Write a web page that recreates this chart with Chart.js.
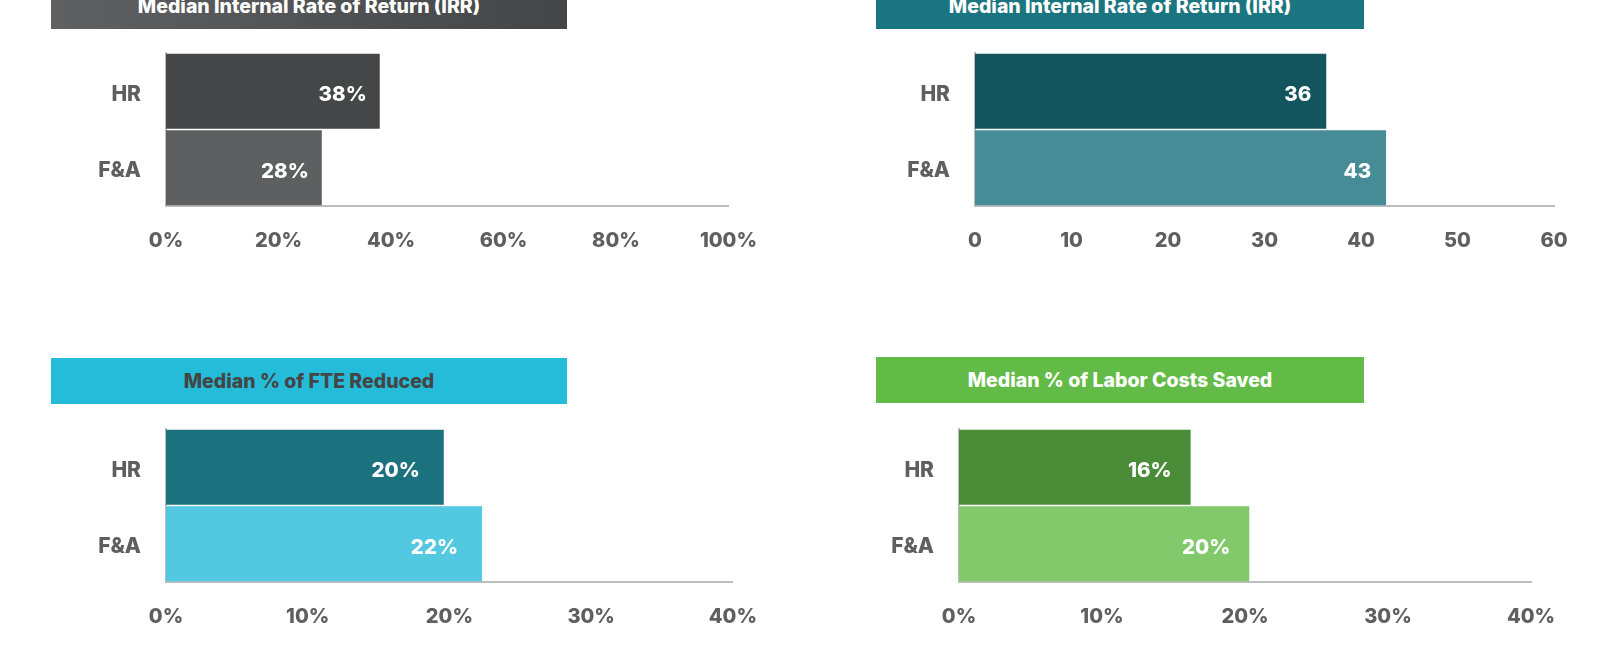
<!DOCTYPE html>
<html>
<head>
<meta charset="utf-8">
<script src="https://cdn.jsdelivr.net/npm/chart.js@4"></script>
<style>
  body { margin: 0; background: #fff; width: 1600px; height: 645px; overflow: hidden; position: relative; font-family: Inter, "Open Sans", sans-serif; }
  .banner { position: absolute; height: 46px; line-height: 46px; text-align: center; font-weight: 800; font-size: 19.5px; color: #fff; }
  canvas { position: absolute; }
</style>
</head>
<body>
<div class="banner" style="left:51px;top:-17px;width:516px;background:linear-gradient(90deg,#5f6062,#444547);">Median Internal Rate of Return (IRR)</div>
<div class="banner" style="left:876px;top:-17px;width:488px;background:#1b7580;">Median Internal Rate of Return (IRR)</div>
<div class="banner" style="left:51px;top:358px;width:516px;background:#25bcd9;color:#454545;">Median % of FTE Reduced</div>
<div class="banner" style="left:876px;top:357px;width:488px;background:#63bb47;">Median % of Labor Costs Saved</div>

<canvas id="c1" width="740" height="230" style="left:40px;top:40px"></canvas>
<canvas id="c2" width="750" height="230" style="left:850px;top:40px"></canvas>
<canvas id="c3" width="740" height="235" style="left:40px;top:410px"></canvas>
<canvas id="c4" width="750" height="235" style="left:850px;top:410px"></canvas>

<script>
const categories = ['HR', 'F&A']

// values
const irrPctValues = [38, 27.7]
const irrValues = [36.4, 42.6]
const fteValues = [19.6, 22.3]
const laborValues = [16.2, 20.3]

// tick labels
const irrPctTicks = [0, 20, 40, 60, 80, 100]
const irrTicks = [0, 10, 20, 30, 40, 50, 60]
const fteTicks = [0, 10, 20, 30, 40]
const laborTicks = [0, 10, 20, 30, 40]

const tickGray = '#5f5f61'
const axisGray = '#bdbdbd'

/**
 * Writes the rounded value inside the end of each bar.
 */
const barLabels = {
  id: 'barLabels',
  afterDatasetsDraw (chart, args, opts) {
    const ctx = chart.ctx
    const meta = chart.getDatasetMeta(0)
    const values = chart.data.datasets[0].data
    ctx.save()
    ctx.fillStyle = '#fff'
    ctx.font = '800 20.5px Inter'
    ctx.textAlign = 'right'
    ctx.textBaseline = 'middle'
    meta.data.forEach((bar, i) => {
      ctx.fillText(Math.round(values[i]) + opts.suffix, bar.x - opts.pad, bar.y + 4)
    })
    ctx.restore()
  }
}

function makePanel (id, values, ticks, colors, suffix, layout) {
  new Chart(document.getElementById(id), {
    type: 'bar',
    data: {
      labels: categories,
      datasets: [{
        data: values,
        backgroundColor: colors,
        barPercentage: 0.98,
        categoryPercentage: 1
      }]
    },
    plugins: [barLabels],
    options: {
      responsive: false,
      animation: false,
      indexAxis: 'y',
      layout: { padding: { top: layout.top, right: layout.right, left: 0, bottom: 0 } },
      plugins: {
        legend: { display: false },
        tooltip: { enabled: false },
        barLabels: { suffix: suffix, pad: layout.pad }
      },
      scales: {
        x: {
          min: ticks[0],
          max: ticks[ticks.length - 1],
          grid: { display: false, drawTicks: false },
          border: { display: true, color: axisGray, width: 2 },
          afterBuildTicks: (scale) => { scale.ticks = ticks.map(v => ({ value: v })) },
          afterFit: (scale) => { scale.height = layout.xh },
          ticks: {
            padding: 23,
            color: tickGray,
            font: { family: 'Inter', weight: '800', size: 20 },
            callback: (v) => v + suffix
          }
        },
        y: {
          grid: { display: false, drawTicks: false },
          border: { display: true, color: axisGray, width: 2 },
          afterFit: (scale) => {
            scale.width = layout.yw
            scale.paddingTop = 0
            scale.paddingBottom = 0
          },
          ticks: {
            padding: 25,
            labelOffset: 3,
            color: tickGray,
            font: { family: 'Inter', weight: '800', size: 21 }
          }
        }
      }
    }
  })
}

makePanel('c1', irrPctValues, irrPctTicks, ['#454648', '#5e5f61'], '%', { top: 13, right: 50, yw: 126, xh: 64, pad: 13 })
makePanel('c2', irrValues, irrTicks, ['#12555f', '#468c97'], '', { top: 13, right: 46, yw: 125, xh: 64, pad: 15 })
makePanel('c3', fteValues, fteTicks, ['#1b717d', '#52c9e1'], '%', { top: 19, right: 43, yw: 126, xh: 63, pad: 24 })
makePanel('c4', laborValues, laborTicks, ['#4a8c37', '#82c96c'], '%', { top: 19, right: 69, yw: 109, xh: 63, pad: 19 })
</script>
</body>
</html>
